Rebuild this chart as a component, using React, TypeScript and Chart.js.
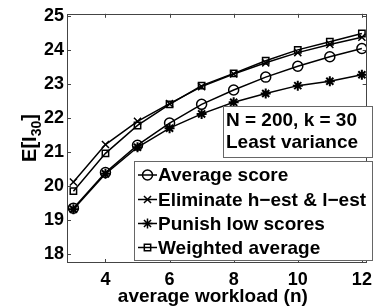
import React, { useEffect, useRef } from 'react';
import { Chart, registerables } from 'chart.js';
import { drawPoint } from 'chart.js/helpers';
Chart.register(...registerables);

const workload = [3, 4, 5, 6, 7, 8, 9, 10, 11, 12];
const averageScore = [19.35, 20.4, 21.2, 21.85, 22.4, 22.82, 23.2, 23.52, 23.8, 24.04];
const eliminateEst = [20.12, 21.22, 21.9, 22.42, 22.92, 23.29, 23.62, 23.92, 24.16, 24.37];
const punishLow = [19.32, 20.36, 21.14, 21.7, 22.12, 22.46, 22.72, 22.95, 23.08, 23.27];
const weightedAvg = [19.85, 20.96, 21.78, 22.4, 22.95, 23.31, 23.68, 24.0, 24.24, 24.48];
const seriesLabels = ['Average score', 'Eliminate h\u2212est & l\u2212est', 'Punish low scores', 'Weighted average'];
const seriesMarkers = ['circle', 'crossRot', 'star', 'rect'];
const xTickValues = [4, 6, 8, 10, 12];
const yTickValues = [18, 19, 20, 21, 22, 23, 24, 25];
const annotationLines = ['N = 200, k = 30', 'Least variance'];
const xTitle = 'average workload (n)';

const FONT = '"Liberation Sans", Arial, Helvetica, sans-serif';

const decorPlugin = {
  id: 'decor',
  afterDraw(chart: any) {
    const ctx = chart.ctx;
    const { left, right, top, bottom } = chart.chartArea;
    const xs = chart.scales.x;
    const ys = chart.scales.y;
    ctx.save();
    // frame
    ctx.strokeStyle = '#444';
    ctx.lineWidth = 1;
    ctx.strokeRect(Math.round(left) + 0.5, Math.round(top) + 0.5, Math.round(right - left) - 1, Math.round(bottom - top) - 1);
    // inward ticks
    ctx.beginPath();
    xTickValues.forEach((v) => {
      const px = Math.round(xs.getPixelForValue(v)) + 0.5;
      ctx.moveTo(px, bottom); ctx.lineTo(px, bottom - 4);
      ctx.moveTo(px, top); ctx.lineTo(px, top + 4);
    });
    yTickValues.forEach((v) => {
      const py = Math.round(ys.getPixelForValue(v)) + 0.5;
      ctx.moveTo(left, py); ctx.lineTo(left + 4, py);
      ctx.moveTo(right, py); ctx.lineTo(right - 4, py);
    });
    ctx.stroke();

    // annotation box
    ctx.fillStyle = '#fff';
    ctx.fillRect(223, 106, 149, 51);
    ctx.strokeStyle = '#666';
    ctx.strokeRect(223.5, 106.5, 149, 51);
    ctx.fillStyle = '#000';
    ctx.font = `bold 19px ${FONT}`;
    ctx.textAlign = 'left';
    ctx.textBaseline = 'middle';
    ctx.fillText(annotationLines[0], 226, 121);
    ctx.fillText(annotationLines[1], 226, 143);

    // legend
    ctx.fillStyle = '#fff';
    ctx.fillRect(134, 161, 238, 99);
    ctx.strokeStyle = '#666';
    ctx.strokeRect(134.5, 161.5, 238, 99);
    const rowY = [175, 199.5, 223.5, 247.5];
    chart.data.datasets.forEach((ds: any, i: number) => {
      const y = rowY[i];
      ctx.strokeStyle = '#000';
      ctx.lineWidth = 1.5;
      ctx.beginPath();
      ctx.moveTo(138, y); ctx.lineTo(157, y);
      ctx.stroke();
      ctx.fillStyle = 'rgba(0,0,0,0)';
      drawPoint(ctx, { pointStyle: ds.pointStyle, radius: ds.pointRadius, borderWidth: ds.pointBorderWidth, rotation: 0 }, 147.5, y);
      ctx.fillStyle = '#000';
      ctx.font = `bold 19px ${FONT}`;
      ctx.textBaseline = 'middle';
      ctx.fillText(ds.label, 158, y + 1);
    });

    // y title E[I_30]
    ctx.save();
    ctx.translate(30, 138);
    ctx.rotate(-Math.PI / 2);
    ctx.fillStyle = '#000';
    ctx.textBaseline = 'alphabetic';
    ctx.textAlign = 'left';
    const a = 'E[I';
    const sub = '30';
    const b = ']';
    ctx.font = `bold 20px ${FONT}`;
    const wa = ctx.measureText(a).width;
    const wb = ctx.measureText(b).width;
    ctx.font = `bold 14px ${FONT}`;
    const ws = ctx.measureText(sub).width;
    const total = wa + ws + wb;
    const x0 = -total / 2;
    ctx.font = `bold 20px ${FONT}`;
    ctx.fillText(a, x0, 6);
    ctx.font = `bold 14px ${FONT}`;
    ctx.fillText(sub, x0 + wa, 11);
    ctx.font = `bold 20px ${FONT}`;
    ctx.fillText(b, x0 + wa + ws, 6);
    ctx.restore();

    // x title
    ctx.fillStyle = '#000';
    ctx.font = `bold 19px ${FONT}`;
    ctx.textAlign = 'center';
    ctx.textBaseline = 'middle';
    ctx.fillText(xTitle, (left + right) / 2 - 4, 297);
    ctx.restore();
  },
};

function makeData(values: number[]) {
  return workload.map((w, i) => ({ x: w, y: values[i] }));
}

export default function App() {
  const ref = useRef<HTMLCanvasElement | null>(null);
  useEffect(() => {
    if (!ref.current) return;
    const series = [averageScore, eliminateEst, punishLow, weightedAvg];
    const chart = new Chart(ref.current, {
      type: 'line',
      data: {
        datasets: series.map((vals, i) => ({
          label: seriesLabels[i],
          data: makeData(vals),
          borderColor: '#000',
          borderWidth: 1.5,
          backgroundColor: 'rgba(0,0,0,0)',
          pointStyle: seriesMarkers[i] as any,
          pointRadius: i === 3 ? 4.5 : 5,
          pointBorderWidth: i === 2 ? 2 : 1.5,
          pointBorderColor: '#000',
          pointBackgroundColor: 'rgba(0,0,0,0)',
          tension: 0,
          fill: false,
        })),
      },
      options: {
        responsive: false,
        animation: false,
        layout: { padding: { left: 0, right: 5, top: 9, bottom: 0 } },
        plugins: { legend: { display: false }, tooltip: { enabled: false }, title: { display: false } },
        scales: {
          x: {
            type: 'linear',
            min: 2.8,
            max: 12.15,
            afterBuildTicks: (s: any) => { s.ticks = xTickValues.map((v) => ({ value: v })); },
            afterFit: (s: any) => { s.height = 43; },
            grid: { display: false, drawTicks: false },
            border: { display: false },
            ticks: { color: '#000', font: { family: FONT, size: 18, weight: 'bold' }, padding: 6, maxRotation: 0, autoSkip: false },
          },
          y: {
            type: 'linear',
            min: 17.74,
            max: 25.06,
            afterBuildTicks: (s: any) => { s.ticks = yTickValues.map((v) => ({ value: v })); },
            afterFit: (s: any) => { s.width = 67; },
            grid: { display: false, drawTicks: false },
            border: { display: false },
            ticks: { color: '#000', font: { family: FONT, size: 18, weight: 'bold' }, padding: 3, autoSkip: false },
          },
        },
      },
      plugins: [decorPlugin],
    });
    return () => chart.destroy();
  }, []);
  return (
    <div style={{ position: 'absolute', left: 0, top: 0, width: 378, height: 306 }}>
      <canvas ref={ref} width={378} height={306} />
    </div>
  );
}
